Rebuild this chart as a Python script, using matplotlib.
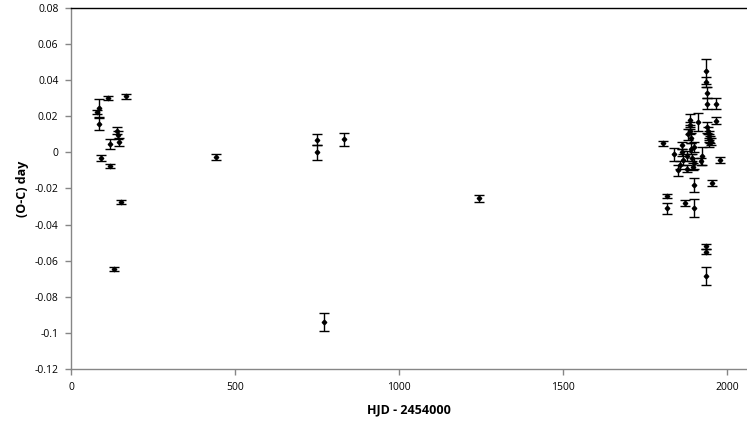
import matplotlib
matplotlib.use("Agg")
import matplotlib.pyplot as plt

# HJD - 2454000
hjd = [79, 85, 85, 90, 113, 119, 119, 140, 143, 146, 152, 131, 168,
       442, 750, 750, 772, 833, 1244,
       1804, 1816, 1816, 1837, 1852, 1858, 1862, 1862, 1865, 1872,
       1877, 1877, 1882, 1887, 1887, 1887, 1890, 1890, 1893, 1895,
       1900, 1900, 1900, 1900, 1913, 1923, 1920,
       1935, 1937, 1940, 1938, 1940, 1942, 1944, 1946, 1948, 1950, 1945,
       1935, 1937, 1935, 1953, 1968, 1968, 1979]
# (O-C) in days
oc = [0.0225, 0.0246, 0.0157, -0.003, 0.030, 0.0047, -0.0075, 0.012, 0.0096, 0.0058, -0.0275, -0.0646, 0.031,
      -0.0026, 0.007, 0.0, -0.0938, 0.0073, -0.0255,
      0.005, -0.024, -0.031, -0.001, -0.010, -0.007, 0.004, 0.0, -0.004, -0.028,
      -0.002, -0.009, 0.010, 0.018, 0.015, 0.012, 0.008, 0.002, -0.003, -0.008,
      0.003, -0.006, -0.018, -0.031, 0.017, -0.002, -0.005,
      0.045, 0.039, 0.033, 0.027, 0.014, 0.012, 0.010, 0.008, 0.007, 0.006, 0.005,
      -0.052, -0.055, -0.0685, -0.017, 0.027, 0.0176, -0.0042]
# error (days)
err = [0.001, 0.005, 0.0035, 0.0015, 0.0012, 0.003, 0.001, 0.002, 0.002, 0.002, 0.001, 0.001, 0.0012,
       0.0015, 0.003, 0.004, 0.005, 0.0037, 0.002,
       0.0015, 0.0012, 0.003, 0.0035, 0.003, 0.002, 0.002, 0.002, 0.003, 0.0015,
       0.003, 0.002, 0.003, 0.003, 0.002, 0.002, 0.003, 0.003, 0.002, 0.002,
       0.003, 0.003, 0.004, 0.005, 0.005, 0.005, 0.002,
       0.007, 0.003, 0.003, 0.003, 0.003, 0.002, 0.002, 0.002, 0.002, 0.002, 0.002,
       0.0015, 0.0015, 0.005, 0.0015, 0.003, 0.002, 0.0015]

xticks = [0, 500, 1000, 1500, 2000]
yticks = [0.08, 0.06, 0.04, 0.02, 0, -0.02, -0.04, -0.06, -0.08, -0.1, -0.12]
ytick_labels = ["0.08", "0.06", "0.04", "0.02", "0", "-0.02", "-0.04", "-0.06", "-0.08", "-0.1", "-0.12"]

plt.rcParams['font.family'] = ['Open Sans', 'DejaVu Sans']

fig = plt.figure(figsize=(7.47, 4.24), dpi=100)
ax = fig.add_axes([71/747, 1 - 369/424, 1 - 71/747, (369 - 8)/424])

ax.errorbar(hjd, oc, yerr=err, fmt='D', color='black', markersize=2.3,
            ecolor='black', elinewidth=1, capsize=3.5, capthick=1)

ax.set_xlim(0, 2061)
ax.set_ylim(-0.12, 0.08)
ax.set_xticks(xticks)
ax.set_xticklabels([str(t) for t in xticks])
ax.set_yticks(yticks)
ax.set_yticklabels(ytick_labels)

gray = '#868686'
for s in ['left', 'bottom']:
    ax.spines[s].set_color(gray)
    ax.spines[s].set_linewidth(1)
ax.spines['top'].set_color('black')
ax.spines['top'].set_linewidth(1)
ax.spines['right'].set_visible(False)
ax.tick_params(axis='both', direction='out', length=4, width=1, color=gray,
               labelsize=7.5, labelcolor='black', pad=5)

ax.set_xlabel('HJD - 2454000', fontsize=9, fontweight='bold', labelpad=8)
ax.set_ylabel('(O-C) day', fontsize=9, fontweight='bold', labelpad=4)

fig.savefig('out.png', dpi=100)
